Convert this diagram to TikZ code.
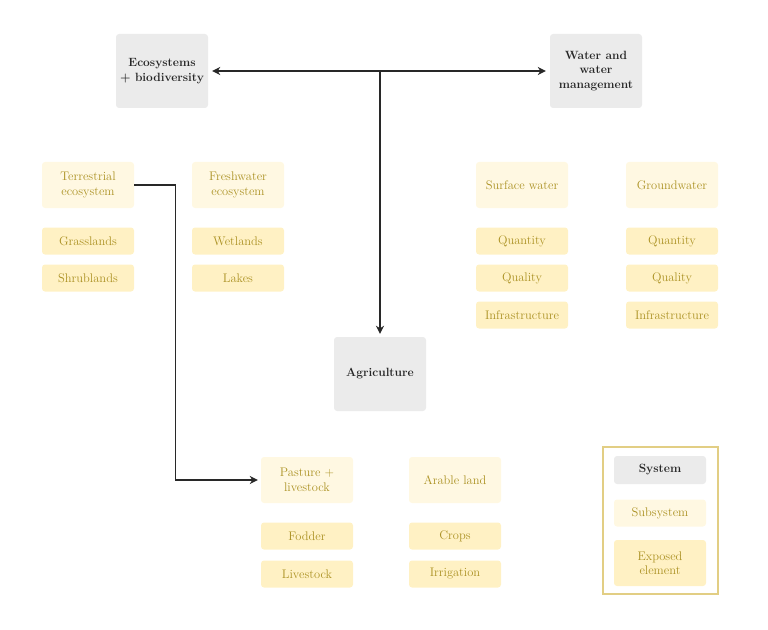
\documentclass[tikz,border=0pt]{standalone}
\usepackage{tikz}
\usetikzlibrary{arrows,arrows.meta,positioning}

\definecolor{sysgray}{RGB}{235,235,235}
\definecolor{subfill}{RGB}{255,248,226}
\definecolor{elemfill}{RGB}{255,241,196}
\definecolor{goldtext}{RGB}{172,146,36}
\definecolor{frameline}{RGB}{226,206,132}
\definecolor{linegray}{RGB}{40,40,40}

\tikzset{
    sysbox/.style={fill=sysgray,rounded corners=3bp,minimum width=92bp,minimum height=74bp,
        align=center,text=black!85,font=\fontsize{12}{14.5}\selectfont\bfseries,inner sep=1bp},
    subbox/.style={fill=subfill,rounded corners=3bp,minimum width=92bp,minimum height=46bp,
        align=center,text=goldtext,font=\fontsize{12.5}{14.5}\selectfont,inner sep=1bp},
    elembox/.style={fill=elemfill,rounded corners=3bp,minimum width=92bp,minimum height=27bp,
        align=center,text=goldtext,font=\fontsize{12.5}{14.5}\selectfont,inner sep=1bp},
    link/.style={draw=linegray,line width=1.4bp},
    tip/.tip={Stealth[length=8bp,width=8bp,inset=2.5bp]},
}

\begin{document}
\begin{tikzpicture}[x=1bp,y=-1bp]
\useasboundingbox (0,0) rectangle (768,630);

% systems
\node[sysbox] (eco) at (162,71) {Ecosystems\\+ biodiversity};
\node[sysbox] (water) at (596,71) {Water and\\water\\management};
\node[sysbox] (agri) at (380,374) {Agriculture};

% ecosystems
\node[subbox] (terr) at (88,185) {Terrestrial\\ecosystem};
\node[subbox] (fresh) at (238,185) {Freshwater\\ecosystem};
\node[elembox] (grass) at (88,241) {Grasslands};
\node[elembox] (shrub) at (88,278) {Shrublands};
\node[elembox] (wet) at (238,241) {Wetlands};
\node[elembox] (lakes) at (238,278) {Lakes};

% water
\node[subbox] (surf) at (522,185) {Surface water};
\node[subbox] (ground) at (672,185) {Groundwater};
\node[elembox] (surfqn) at (522,241) {Quantity};
\node[elembox] (surfql) at (522,278) {Quality};
\node[elembox] (surfin) at (522,315) {Infrastructure};
\node[elembox] (grndqn) at (672,241) {Quantity};
\node[elembox] (grndql) at (672,278) {Quality};
\node[elembox] (grndin) at (672,315) {Infrastructure};

% agriculture
\node[subbox] (pasture) at (307,480) {Pasture +\\livestock};
\node[subbox] (arable) at (455,480) {Arable land};
\node[elembox] (fodder) at (307,536) {Fodder};
\node[elembox] (stock) at (307,574) {Livestock};
\node[elembox] (crops) at (455,536) {Crops};
\node[elembox] (irrig) at (455,574) {Irrigation};

% legend
\draw[frameline,line width=1.5bp] (603,447) rectangle (718,594);
\node[sysbox,minimum height=28bp] (legsys) at (660,470) {System};
\node[subbox,minimum height=27bp] (legsub) at (660,513) {Subsystem};
\node[elembox,minimum height=46bp] (legelem) at (660,563) {Exposed\\element};

% connectors
\coordinate (mid) at (agri.north |- eco.east);
\draw[link,tip-tip,shorten <=4bp,shorten >=4bp] (eco.east) -- (water.west);
\draw[link,-tip,shorten >=3bp] (mid) -- (agri.north);
\draw[link,-tip,shorten >=3bp] (terr.east) -- ++(41,0) |- (pasture.west);
\end{tikzpicture}
\end{document}
